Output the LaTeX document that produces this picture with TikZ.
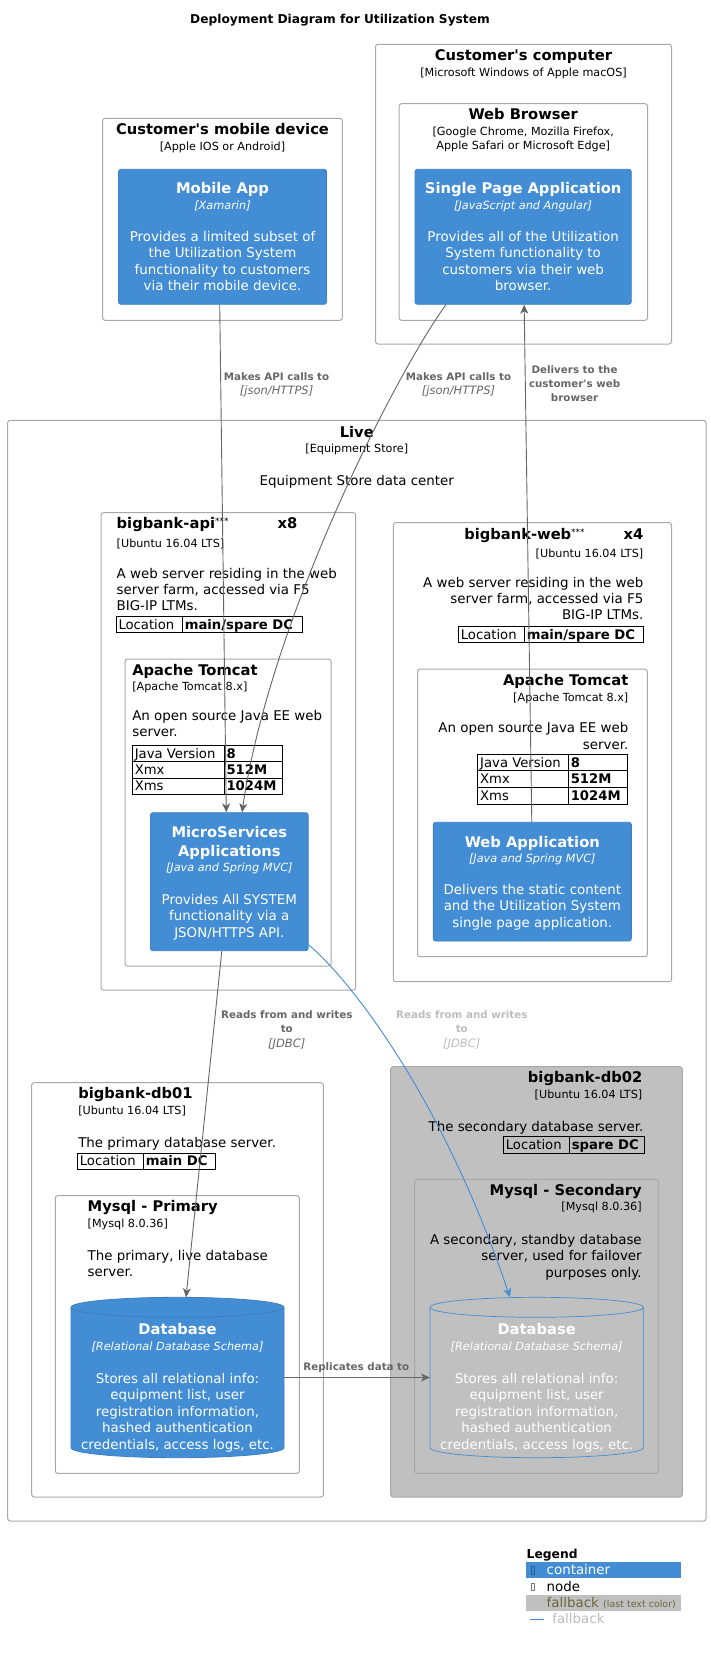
\documentclass[tikz,border=0pt]{standalone}
\usepackage{fontspec}
\setmainfont{DejaVu Sans}[Ligatures=TeXOff]
\usetikzlibrary{arrows.meta,fit,calc}
\definecolor{cblue}{HTML}{438DD5}
\definecolor{cbluedk}{HTML}{3C7FC0}
\definecolor{ngray}{HTML}{A8A8A8}
\definecolor{agray}{HTML}{666666}
\definecolor{silverfill}{HTML}{C0C0C0}
\definecolor{lgraytxt}{HTML}{BDBDBD}
\definecolor{fbolive}{HTML}{6B6640}
\newcommand\setfs[2]{\fontsize{#1}{#2}\selectfont}
\newcommand\kvrow[8]{%
  \draw[tblline] (#2,#5) rectangle (#3,#6);
  \draw[tblline] (#3,#5) rectangle (#4,#6);
  \node[tblkey, anchor=base west] (#1k) at ({#2+2.5},{#6-3.6}) {#7};
  \node[tblval, anchor=base west] (#1v) at ({#3+2.5},{#6-3.6}) {#8};
}
\newcommand\cylbody[4]{({#1},{#3+10}) -- ({#1},{#4-10})
 .. controls ({#1},{#4-10+5.523}) and ({(#1+#2)/2-0.27615*(#2-#1)},{#4}) .. ({(#1+#2)/2},{#4})
 .. controls ({(#1+#2)/2+0.27615*(#2-#1)},{#4}) and ({#2},{#4-10+5.523}) .. ({#2},{#4-10})
 -- ({#2},{#3+10})
 .. controls ({#2},{#3+10-5.523}) and ({(#1+#2)/2+0.27615*(#2-#1)},{#3}) .. ({(#1+#2)/2},{#3})
 .. controls ({(#1+#2)/2-0.27615*(#2-#1)},{#3}) and ({#1},{#3+10-5.523}) .. ({#1},{#3+10}) -- cycle}
\newcommand\cyllid[4]{({#1},{#3+10})
 .. controls ({#1},{#3+10+5.523}) and ({(#1+#2)/2-0.27615*(#2-#1)},{#3+20}) .. ({(#1+#2)/2},{#3+20})
 .. controls ({(#1+#2)/2+0.27615*(#2-#1)},{#3+20}) and ({#2},{#3+10+5.523}) .. ({#2},{#3+10})}
\begin{document}
\begin{tikzpicture}[x=1pt,y=-1pt,
  base/.style={inner sep=0, outer sep=0},
  ttl/.style={base, font=\setfs{14.7}{19.4}\bfseries},
  tch/.style={base, font=\setfs{11.2}{13.6}},
  tchi/.style={base, font=\setfs{11.3}{14}\itshape},
  dsc/.style={base, font=\setfs{13.4}{16.5}},
  dscn/.style={base, font=\setfs{13.4}{16}},
  lblb/.style={base, font=\setfs{10.3}{14.1}\bfseries, text=agray},
  lbli/.style={base, font=\setfs{11.5}{14}\itshape, text=agray},
  nodebox/.style={draw=ngray, line width=1pt, rounded corners=2.5pt, inner sep=0},
  contbox/.style={fill=cblue, draw=cbluedk, line width=0.8pt, rounded corners=2.5pt, inner sep=0},
  tblline/.style={draw=black, line width=0.9pt},
  tblkey/.style={base, font=\setfs{13.2}{16}},
  tblval/.style={base, font=\setfs{13.2}{16}\bfseries},
  rel/.style={draw=agray, line width=0.9pt, -{Stealth[length=9pt,width=8pt,inset=2.5pt]}},
  relblue/.style={draw=cblue, line width=0.9pt, -{Stealth[length=9pt,width=8pt,inset=2.5pt]}},
  ]
\useasboundingbox (0,0) rectangle (711,1654);
\fill[white] (0,0) rectangle (711,1654);

% ---------- title
\node[base, font=\setfs{12.2}{15}\bfseries, anchor=north] (title) at (340,13.9) {Deployment Diagram for Utilization System};

% ---------- customer's computer
\node[nodebox, fit={(375.5,44.3) (671.5,344)}] (custcomp) {};
\node[ttl, anchor=north] (custcompT) at (523.5,49.8) {Customer's computer};
\node[tch, anchor=north] (custcompS) at (523.5,68.1) {[Microsoft Windows of Apple macOS]};
\node[nodebox, fit={(399,103.7) (647.5,320.3)}] (browser) {};
\node[ttl, anchor=north] (browserT) at (523.2,108.8) {Web Browser};
\node[tch, anchor=north, align=center] (browserS) at (523.2,127.1) {[Google Chrome, Mozilla Firefox,\\Apple Safari or Microsoft Edge]};
\node[contbox, fit={(415,169.3) (631.3,304.3)}] (spa) {};
\node[ttl, text=white, anchor=north] (spaT) at (523.15,182.8) {Single Page Application};
\node[tchi, text=white, anchor=north] (spaS) at (523.15,201) {[JavaScript and Angular]};
\node[dsc, text=white, anchor=north, align=center] (spaD) at (523.15,231) {Provides all of the Utilization\\System functionality to\\customers via their web\\browser.};

% ---------- mobile device
\node[nodebox, fit={(102.7,118.3) (342.3,320.3)}] (mobdev) {};
\node[ttl, anchor=north] (mobdevT) at (222.5,123.8) {Customer's mobile device};
\node[tch, anchor=north] (mobdevS) at (222.5,142.1) {[Apple IOS or Android]};
\node[contbox, fit={(118.5,169.3) (326.5,304.3)}] (mobile) {};
\node[ttl, text=white, anchor=north] (mobileT) at (222.5,182.8) {Mobile App};
\node[tchi, text=white, anchor=north] (mobileS) at (222.5,201) {[Xamarin]};
\node[dsc, text=white, anchor=north, align=center] (mobileD) at (222.5,231) {Provides a limited subset of\\the Utilization System\\functionality to customers\\via their mobile device.};

% ---------- Live
\node[nodebox, fit={(7.7,420.3) (706,1521)}] (live) {};
\node[ttl, anchor=north] (liveT) at (356.8,426.5) {Live};
\node[tch, anchor=north] (liveS) at (356.8,444.4) {[Equipment Store]};
\node[dsc, anchor=north] (liveD) at (356.8,475.3) {Equipment Store data center};

% ---------- bigbank-api
\node[nodebox, fit={(101,512.7) (355.7,990)}] (api) {};
\node[ttl, anchor=north west] (apiT) at (116.7,517.8) {bigbank-api};
\node[base, font=\setfs{9}{10}, anchor=north west] (apiStar) at (apiT.north east) {***};
\node[ttl, anchor=north west] (apiX) at (277.7,517.8) {x8};
\node[tch, anchor=north west] (apiS) at (116.7,539.4) {[Ubuntu 16.04 LTS]};
\node[dscn, anchor=north west, align=left] (apiD) at (116.7,568.3) {A web server residing in the web\\server farm, accessed via F5\\BIG-IP LTMs.};
\kvrow{apiLoc}{116}{182.3}{302}{616.7}{632.7}{Location}{main/spare DC}

\node[nodebox, fit={(125,659) (331,966)}] (apitc) {};
\node[ttl, anchor=north west] (apitcT) at (132.3,664.5) {Apache Tomcat};
\node[tch, anchor=north west] (apitcS) at (132.3,682.1) {[Apache Tomcat 8.x]};
\node[dscn, anchor=north west, align=left] (apitcD) at (132.3,710.3) {An open source Java EE web\\server.};
\kvrow{apiJv}{132.3}{224}{282.3}{745.3}{761.7}{Java Version}{8}
\kvrow{apiXmx}{132.3}{224}{282.3}{761.7}{778.3}{Xmx}{512M}
\kvrow{apiXms}{132.3}{224}{282.3}{778.3}{794.3}{Xms}{1024M}

\node[contbox, fit={(150.4,812.7) (308.2,950.7)}] (ms) {};
\node[ttl, text=white, anchor=north, align=center] (msT) at (229.3,826.1) {MicroServices\\Applications};
\node[tchi, text=white, anchor=north] (msS) at (229.3,863) {[Java and Spring MVC]};
\node[dsc, text=white, anchor=north, align=center] (msD) at (229.3,894.3) {Provides All SYSTEM\\functionality via a\\JSON/HTTPS API.};

% ---------- bigbank-web
\node[nodebox, fit={(393.3,522.7) (671.5,981.7)}] (web) {};
\node[ttl, anchor=north west] (webT) at (464.3,528.8) {bigbank-web};
\node[base, font=\setfs{9}{10}, anchor=north west] (webStar) at (webT.north east) {***};
\node[ttl, anchor=north east] (webX) at (643.3,528.8) {x4};
\node[tch, anchor=north east] (webS) at (643.3,548.7) {[Ubuntu 16.04 LTS]};
\node[dscn, anchor=north east, align=right] (webD) at (643.3,577) {A web server residing in the web\\server farm, accessed via F5\\BIG-IP LTMs.};
\kvrow{webLoc}{458.3}{524.3}{643.3}{626.7}{642.7}{Location}{main/spare DC}

\node[nodebox, fit={(417.5,669) (647.3,956.7)}] (webtc) {};
\node[ttl, anchor=north east] (webtcT) at (628.3,674.5) {Apache Tomcat};
\node[tch, anchor=north east] (webtcS) at (628.3,693.1) {[Apache Tomcat 8.x]};
\node[dsc, anchor=north east, align=right] (webtcD) at (628.3,722.6) {An open source Java EE web\\server.};
\kvrow{webJv}{477.7}{568.3}{627.3}{754.3}{770.7}{Java Version}{8}
\kvrow{webXmx}{477.7}{568.3}{627.3}{770.7}{787.3}{Xmx}{512M}
\kvrow{webXms}{477.7}{568.3}{627.3}{787.3}{804}{Xms}{1024M}

\node[contbox, fit={(433.2,822.3) (631.4,941)}] (webapp) {};
\node[ttl, text=white, anchor=north] (webappT) at (532.3,836.1) {Web Application};
\node[tchi, text=white, anchor=north] (webappS) at (532.3,854.3) {[Java and Spring MVC]};
\node[dsc, text=white, anchor=north, align=center] (webappD) at (532.3,884.3) {Delivers the static content\\and the Utilization System\\single page application.};

% ---------- bigbank-db01
\node[nodebox, fit={(31.7,1082.7) (323.3,1497)}] (db01) {};
\node[ttl, anchor=north west] (db01T) at (78.3,1087.8) {bigbank-db01};
\node[tch, anchor=north west] (db01S) at (78.3,1106.1) {[Ubuntu 16.04 LTS]};
\node[dscn, anchor=north west] (db01D) at (78.3,1137) {The primary database server.};
\kvrow{db01Loc}{77.3}{143.3}{215.3}{1153}{1169.3}{Location}{main DC}

\node[nodebox, fit={(55.3,1195.7) (299.3,1473.3)}] (mysqlp) {};
\node[ttl, anchor=north west] (mysqlpT) at (87.7,1200.8) {Mysql - Primary};
\node[tch, anchor=north west] (mysqlpS) at (87.7,1218.7) {[Mysql 8.0.36]};
\node[dscn, anchor=north west, align=left] (mysqlpD) at (87.7,1250.3) {The primary, live database\\server.};

\node[base, fit={(71,1297.3) (284,1457.7)}] (dbp) {};
\fill[cblue] \cylbody{71}{284}{1297.3}{1457.7};
\draw[cbluedk, line width=0.8pt] \cylbody{71}{284}{1297.3}{1457.7};
\draw[cbluedk, line width=0.8pt] \cyllid{71}{284}{1297.3}{1457.7};
\node[ttl, text=white, anchor=north] (dbpT) at (177.5,1323.8) {Database};
\node[tchi, text=white, anchor=north] (dbpS) at (177.5,1342) {[Relational Database Schema]};
\node[dsc, text=white, anchor=north, align=center] (dbpD) at (177.5,1373.3) {Stores all relational info:\\equipment list, user\\registration information,\\hashed authentication\\credentials, access logs, etc.};

% ---------- bigbank-db02
\node[nodebox, fill=silverfill, fit={(390.7,1066.7) (682.3,1497)}] (db02) {};
\node[ttl, anchor=north east] (db02T) at (642.3,1071.5) {bigbank-db02};
\node[tch, anchor=north east] (db02S) at (642.3,1089.7) {[Ubuntu 16.04 LTS]};
\node[dscn, anchor=north east] (db02D) at (643.3,1121) {The secondary database server.};
\kvrow{db02Loc}{503.3}{569.3}{644.3}{1136.7}{1153.3}{Location}{spare DC}

\node[nodebox, fit={(414.7,1179.3) (658.3,1473.3)}] (mysqls) {};
\node[ttl, anchor=north east] (mysqlsT) at (641.7,1184.8) {Mysql - Secondary};
\node[tch, anchor=north east] (mysqlsS) at (641.7,1202.4) {[Mysql 8.0.36]};
\node[dsc, anchor=north east, align=right] (mysqlsD) at (641.7,1234.3) {A secondary, standby database\\server, used for failover\\purposes only.};

\node[base, fit={(430,1297.3) (643.3,1457.7)}] (dbs) {};
\draw[cblue, line width=0.7pt] \cylbody{430}{643.3}{1297.3}{1457.7};
\draw[cblue, line width=0.7pt] \cyllid{430}{643.3}{1297.3}{1457.7};
\node[ttl, text=white, anchor=north] (dbsT) at (536.65,1323.8) {Database};
\node[tchi, text=white, anchor=north] (dbsS) at (536.65,1342) {[Relational Database Schema]};
\node[dsc, text=white, anchor=north, align=center] (dbsD) at (536.65,1373.3) {Stores all relational info:\\equipment list, user\\registration information,\\hashed authentication\\credentials, access logs, etc.};

% ---------- connectors
\draw[rel] ([xshift=-2.8pt]mobile.south) -- ([xshift=-3pt]ms.north);
\draw[rel] ([xshift=-77.25pt]spa.south) .. controls (395,375) and (270,620) .. ([xshift=12.7pt]ms.north);
\draw[rel] ([xshift=-0.5pt]webapp.north) -- ([xshift=1pt]spa.south);
\draw[rel] ([xshift=-7.5pt]ms.south) -- ([xshift=8.5pt]dbp.north);
\draw[relblue] ([yshift=6.4pt]ms.south east) .. controls (345,975) and (440,1090) .. ([xshift=-26.65pt]dbs.north);
\draw[rel] (dbp.east) -- (dbs.west);

% ---------- connector labels
\node[lblb, anchor=north] (l1a) at (276.6,372.4) {Makes API calls to};
\node[lbli, anchor=north] (l1b) at (276.6,386.2) {[json/HTTPS]};
\node[lblb, anchor=north] (l2a) at (458.5,372.4) {Makes API calls to};
\node[lbli, anchor=north] (l2b) at (458.5,386.2) {[json/HTTPS]};
\node[lblb, anchor=north, align=center] (l3) at (574.6,365.4) {Delivers to the\\customer's web\\browser};
\node[lblb, anchor=north, align=center] (l4a) at (286.8,1010.7) {Reads from and writes\\to};
\node[lbli, anchor=north] (l4b) at (286.8,1039.2) {[JDBC]};
\node[lblb, text=lgraytxt, anchor=north, align=center] (l5a) at (461.8,1010.7) {Reads from and writes\\to};
\node[lbli, text=lgraytxt, anchor=north] (l5b) at (461.8,1039.2) {[JDBC]};
\node[lblb, anchor=north] (l6) at (356.3,1362.4) {Replicates data to};

% ---------- legend
\node[base, font=\setfs{12.3}{14}\bfseries, anchor=north west] (legT) at (526.7,1549) {Legend};
\node[base, fill=cblue, fit={(526,1562.3) (681,1578.3)}] (legC) {};
\draw[cbluedk!70!black, line width=0.6pt] (531.5,1566.5) rectangle (534.5,1574);
\node[base, font=\setfs{13.4}{16}, text=white, anchor=base west] (legCt) at (546.7,1574.5) {container};
\draw[ngray!70!black, line width=0.6pt] (531.5,1583) rectangle (534.5,1590.5);
\node[base, font=\setfs{13.4}{16}, anchor=base west] (legNt) at (546.7,1591.2) {node};
\node[base, fill=silverfill, fit={(526,1595) (681,1611)}] (legF) {};
\node[base, font=\setfs{13.4}{16}, text=fbolive, anchor=base west] (legFt) at (546.7,1607.5) {fallback {\setfs{9.5}{10}(last text color)}};
\draw[cblue, line width=1pt] (530,1619.3) -- (544,1619.3);
\node[base, font=\setfs{13.4}{16}, text=lgraytxt, anchor=base west] (legLt) at (552.3,1623.8) {fallback};
\end{tikzpicture}
\end{document}
